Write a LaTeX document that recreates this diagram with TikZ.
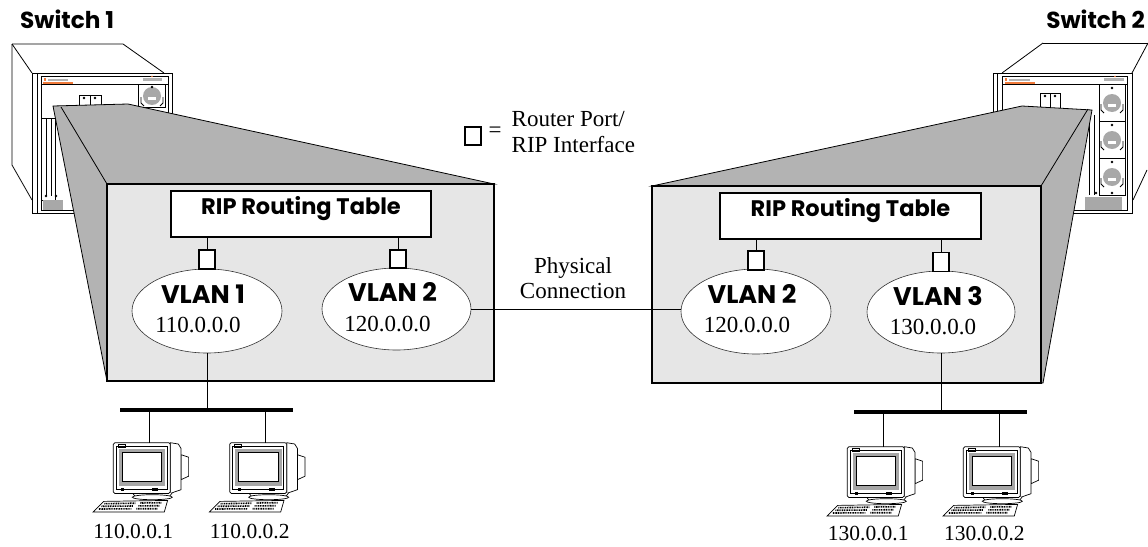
\documentclass[tikz,border=0pt]{standalone}
\usepackage{fontspec}
\setmainfont{Liberation Serif}
\newfontfamily\geo{Poppins}
\usetikzlibrary{calc,shapes.geometric}
\definecolor{sidegrey}{HTML}{B3B3B3}
\definecolor{panelgrey}{HTML}{E6E6E6}
\definecolor{meshgrey}{HTML}{A8A8A8}
\definecolor{logoorange}{HTML}{F07A3A}
\tikzset{
 swline/.style={line width=0.8pt, draw=black},
 pcline/.style={line width=0.7pt, draw=black},
 sideshape/.style={fill=sidegrey, draw=black, line width=0.8pt},
 panel/.style={draw=black, fill=panelgrey, line width=2.8pt, rectangle, inner sep=0pt},
 riptable/.style={draw=black, fill=white, line width=2.2pt, rectangle, inner xsep=0pt, inner ysep=0pt, minimum width=260pt, text height=23.5pt, text depth=22.5pt, font=\geo\bfseries\fontsize{22.5}{26}\selectfont},
 port/.style={draw=black, fill=white, line width=1.7pt, rectangle, inner sep=0pt, minimum width=16pt, minimum height=19pt},
 vlan/.style={draw=black!80, fill=white, line width=0.6pt, ellipse, inner sep=0pt, minimum width=150pt, minimum height=84pt},
 vlantitle/.style={anchor=base, inner sep=0pt, font=\geo\bfseries\fontsize{25.5}{28}\selectfont},
 iptext/.style={anchor=base, inner sep=0pt, font=\fontsize{23}{26}\selectfont},
 pclabel/.style={anchor=base, inner sep=0pt, font=\fontsize{21.5}{24}\selectfont},
 link/.style={line width=0.9pt},
 bus/.style={line width=4pt},
 swtitle/.style={inner sep=0pt, font=\geo\bfseries\fontsize{23.2}{26}\selectfont},
 pcicon/.pic={
  \draw[pcline, fill=white] (31.7,12) -- (39.3,14.5) -- (39.3,33.5) -- (31.7,37) -- cycle;
  \draw[pcline, fill=white] (21,0) -- (29,1.3) -- (31.7,5.7) -- (31.7,47) -- (21,50.7) -- cycle;
  \draw[pcline, fill=white] (-17,50) -- (-14,54) -- (20,54) -- (23,50);
  \draw[pcline, fill=white] (3,54.5) ellipse [x radius=20pt, y radius=2.5pt];
  \draw[pcline, fill=white, rounded corners=1.5pt] (-36,0) rectangle (21,50.7);
  \draw[pcline] (-33,3.5) rectangle (18,47);
  \draw[pcline] (-31,2) rectangle (-24,5);
  \fill[gray!70] (-30.5,6.5) rectangle (16,43.5);
  \draw[pcline, fill=white] (-27,10) rectangle (12.5,39);
  \fill (-28,45) rectangle (-25,48);
  \fill (3,45) rectangle (9,48);
  \draw[pcline, fill=white] (-45.7,58.7) -- (18.3,57.7) -- (15,69.3) -- (-56.3,69.3) -- cycle;
  \draw[line width=1.6pt, dash pattern=on 1pt off 0.7pt] (-45,61) -- (-14,60.5) (-9,60.3) -- (12,60);
  \draw[line width=1.6pt, dash pattern=on 1pt off 0.7pt] (-48,63.6) -- (-16,63.3) (-11,63.2) -- (10,63);
  \draw[line width=1.6pt, dash pattern=on 1pt off 0.7pt] (-50.5,66.3) -- (-18,66.1) (-13,66) -- (8,66);
 },
}
\begin{document}
\begin{tikzpicture}[x=1pt,y=-1pt]
\useasboundingbox (0,0) rectangle (1148,546);
% ---------------- Switch 1 device ----------------
\draw[swline] (12,44) -- (123,44) -- (164,73);
\draw[swline] (12,44) -- (32,73);
\draw[swline] (12,44) -- (12,165) -- (32,200);
\draw[swline, fill=white] (32,73) rectangle (172,213);
\draw[swline] (37,73) -- (37,213);
\draw[swline] (41,76) rectangle (168,210);
\draw[swline] (41,84) -- (168,84);
\fill[logoorange] (43,82.3) rectangle (73,83.6);
\fill[logoorange] (44,78) rectangle (46,81);
\fill[gray!60] (48,79) rectangle (68,80.5);
\fill[gray!60] (143,78) rectangle (162,81);
\fill[logoorange] (152,76.5) circle (0.8pt);
\draw[swline] (138,84) rectangle (165,107);
\fill[meshgrey] (152,96) circle (9pt);
\fill[white] (148,97) rectangle (156,100);
\draw[swline] (141,97) -- (141,103) -- (144,106);
\draw[swline] (163,97) -- (163,103) -- (160,106);
\fill (152,87) circle (1.4pt);
\draw[swline] (79,95) rectangle (90,106);
\draw[swline] (90,95) rectangle (101,106);
\fill (84,98) circle (1.3pt);
\fill (95,98) circle (1.3pt);
\draw[swline] (41,118) rectangle (55,200);
\draw[swline] (46,118) -- (46,196);
\draw[swline] (51,118) -- (51,196);
\fill (46,196) circle (1.4pt);
\fill (56,196) circle (1.4pt);
\fill[meshgrey] (43,200) rectangle (63,210);
% ---------------- Switch 2 device ----------------
\draw[swline] (1043,43) -- (1148,43);
\draw[swline] (1043,43) -- (1002,73);
\draw[swline] (1148,43) -- (1132,73);
\draw[swline] (1147,170) -- (1133,200);
\draw[swline, fill=white] (993,73) rectangle (1132,213);
\draw[swline] (997,73) -- (997,213);
\draw[swline] (1002,76) rectangle (1127,210);
\draw[swline] (1002,84) -- (1127,84);
\fill[logoorange] (1005,82.3) rectangle (1035,83.6);
\fill[logoorange] (1005,78) rectangle (1007,81);
\fill[gray!60] (1009,79) rectangle (1030,80.5);
\fill[gray!60] (1104,78) rectangle (1124,81);
\fill[logoorange] (1115,76.5) circle (0.8pt);
\draw[swline] (1099,84) rectangle (1125,195);
\draw[swline] (1099,121) -- (1125,121);
\draw[swline] (1099,158) -- (1125,158);
\foreach \fy in {103,140,177}{
  \fill[meshgrey] (1112,\fy) circle (9pt);
  \fill[white] (1108,\fy+1) rectangle (1116,\fy+4);
  \draw[swline] (1101,\fy+1) -- (1101,\fy+7) -- (1104,\fy+10);
  \draw[swline] (1123,\fy+1) -- (1123,\fy+7) -- (1120,\fy+10);
  \fill (1112,\fy-15) circle (1.4pt);
}
\fill (1112,193) circle (1.4pt);
\fill[meshgrey] (1085,197) rectangle (1122,210);
\draw[swline] (1040,93) rectangle (1050,108);
\draw[swline] (1050,93) rectangle (1060,108);
\fill (1045,96) circle (1.3pt);
\fill (1055,96) circle (1.3pt);
\draw[swline] (1089,115) -- (1089,195);
\draw[swline] (1094,115) -- (1094,195);
\fill (1096,193) circle (1.4pt);
% ---------------- perspective sides ----------------
\draw[sideshape] (53,106) -- (128,104) -- (494,184) -- (107,184) -- (107,381) -- cycle;
\draw[swline] (61,107) -- (107,184);
\draw[sideshape] (652,186) -- (1022,106) -- (1092,110) -- (1043,383) -- (1041,383) -- (1041,186) -- cycle;
\draw[swline] (1088,109) -- (1041,186);
% ---------------- panels ----------------
\node[panel, minimum width=387pt, minimum height=197pt] (lpanel) at (300.5,282.5) {};
\node[panel, minimum width=389pt, minimum height=197pt] (rpanel) at (846.5,284.5) {};
% ---------------- routing tables ----------------
\node[riptable] (lrip) at (301,214) {RIP Routing Table};
\node[riptable, minimum width=261pt] (rrip) at (850.5,216) {RIP Routing Table};
% ---------------- VLANs ----------------
\node[vlan] (lv1) at (207,311) {};
\node[vlan, minimum width=149pt, minimum height=82pt] (lv2) at (396.5,309) {};
\node[vlan, minimum height=85pt] (rv2) at (756,311.5) {};
\node[vlan, minimum width=148pt, minimum height=82pt] (rv3) at (941,312) {};
\node[vlantitle] (lv1t) at ($(lv1)+(-4,-8)$) {VLAN 1};
\node[iptext] (lv1n) at ($(lv1)+(-9,21)$) {110.0.0.0};
\node[vlantitle] (lv2t) at ($(lv2)+(-4,-8)$) {VLAN 2};
\node[iptext] (lv2n) at ($(lv2)+(-9,22)$) {120.0.0.0};
\node[vlantitle] (rv2t) at ($(rv2)+(-4,-8)$) {VLAN 2};
\node[iptext] (rv2n) at ($(rv2)+(-9,21)$) {120.0.0.0};
\node[vlantitle] (rv3t) at ($(rv3)+(-3,-7)$) {VLAN 3};
\node[iptext] (rv3n) at ($(rv3)+(-8,22)$) {130.0.0.0};
% ---------------- ports ----------------
\node[port] (lp1) at (207,259.5) {};
\node[port, minimum height=18pt] (lp2) at (398,259) {};
\node[port] (rp1) at (756,260.5) {};
\node[port] (rp2) at (941,262) {};
\draw[link] (lrip.south -| lp1.north) -- (lp1.north);
\draw[link] (lrip.south -| lp2.north) -- (lp2.north);
\draw[link] (rrip.south -| rp1.north) -- (rp1.north);
\draw[link] (rrip.south -| rp2.north) -- (rp2.north);
% ---------------- physical connection ----------------
\draw[link] (lv2.east) -- (lv2.east -| rv2.west);
\node[iptext] (phys1) at (573,273.3) {Physical};
\node[iptext] (phys2) at (573,298.3) {Connection};
% ---------------- legend ----------------
\node[port, minimum height=18pt] (legsq) at (473,136) {};
\node[iptext, anchor=center] (legeq) at (495,132) {=};
\node[iptext, anchor=base west] (leg1) at (511.5,126.7) {Router Port/};
\node[iptext, anchor=base west] (leg2) at (511.5,152.7) {RIP Interface};
% ---------------- titles ----------------
\node[swtitle, anchor=base west] (sw1) at (20,28.3) {Switch 1};
\node[swtitle, anchor=base east] (sw2) at (1145,28.3) {Switch 2};
% ---------------- left LAN ----------------
\coordinate (lbusL) at (120,409.5);
\coordinate (lbusR) at (293,409.5);
\draw[bus] (lbusL) -- (lbusR);
\draw[link] (lv1.south) -- (lv1.south |- lbusL);
\coordinate (pc1) at (149.3,442.7);
\coordinate (pc2) at (265.7,442.7);
\pic at (pc1) {pcicon};
\pic at (pc2) {pcicon};
\draw[link] (pc1 |- lbusL) -- (pc1);
\draw[link] (pc2 |- lbusL) -- (pc2);
\node[pclabel] (pc1lab) at ($(pc1)+(-16,96)$) {110.0.0.1};
\node[pclabel] (pc2lab) at ($(pc2)+(-16,96)$) {110.0.0.2};
% ---------------- right LAN ----------------
\coordinate (rbusL) at (854,411.7);
\coordinate (rbusR) at (1026.7,411.7);
\draw[bus] (rbusL) -- (rbusR);
\draw[link] (rv3.south) -- (rv3.south |- rbusL);
\coordinate (pc3) at (883.3,446.7);
\coordinate (pc4) at (999.3,446.7);
\pic at (pc3) {pcicon};
\pic at (pc4) {pcicon};
\draw[link] (pc3 |- rbusL) -- (pc3);
\draw[link] (pc4 |- rbusL) -- (pc4);
\node[pclabel] (pc3lab) at ($(pc3)+(-15,94)$) {130.0.0.1};
\node[pclabel] (pc4lab) at ($(pc4)+(-15,94)$) {130.0.0.2};
\end{tikzpicture}
\end{document}
